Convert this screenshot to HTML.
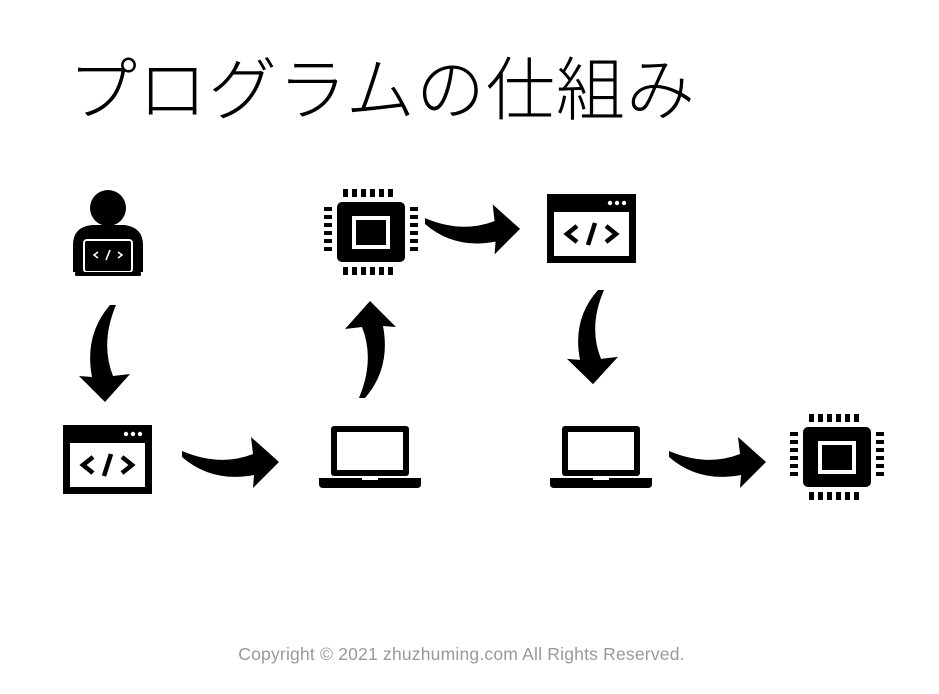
<!DOCTYPE html>
<html><head><meta charset="utf-8"><style>
html,body{margin:0;padding:0;background:#fff;width:939px;height:694px;overflow:hidden;position:relative}
.t{position:absolute;left:68px;top:34px;font-family:"Liberation Sans","Noto Sans CJK JP",sans-serif;font-weight:300;font-size:69px;color:#000;white-space:nowrap;letter-spacing:1px}
.c{position:absolute;left:0;width:923px;text-align:center;top:644px;font-family:"Liberation Sans",sans-serif;font-size:17.5px;letter-spacing:0.2px;color:#999}
svg{position:absolute;left:0;top:0}
</style></head><body>
<div class="t">プログラムの仕組み</div>
<div class="c">Copyright © 2021 zhuzhuming.com All Rights Reserved.</div>
<svg width="939" height="694" viewBox="0 0 939 694">
<defs>
<path id="ar" d="M0,-4 Q38,12 71,-1 L69,-18 L97,7 L71,33 L72,20 Q30,28 0,2 Z" fill="#000"/>
<g id="win">
<rect x="0" y="0" width="89" height="69" fill="#000"/>
<rect x="7" y="18" width="75" height="44" fill="#fff"/>
<circle cx="63" cy="9" r="2.2" fill="#fff"/><circle cx="70" cy="9" r="2.2" fill="#fff"/><circle cx="77" cy="9" r="2.2" fill="#fff"/>
<path d="M30,32 L20,40 L30,48 M59,32 L69,40 L59,48 M48,29 L41,51" stroke="#000" stroke-width="4.5" fill="none"/>
</g>
<g id="lap">
<rect x="12" y="0" width="78" height="50" rx="3" fill="#000"/>
<rect x="18" y="6" width="66" height="38" fill="#fff"/>
<path d="M0,52 H102 V58 Q102,62 98,62 H4 Q0,62 0,58 Z" fill="#000"/>
<rect x="43" y="52" width="16" height="2" fill="#fff"/>
</g>
<g id="chip">
<rect x="13" y="13" width="68" height="60" rx="5" fill="#000"/>
<rect x="28" y="27" width="38" height="33" fill="#fff"/>
<rect x="32" y="31" width="30" height="25" fill="#000"/>
<g fill="#000">
<rect x="19" y="0" width="5" height="8"/><rect x="28" y="0" width="5" height="8"/><rect x="37" y="0" width="5" height="8"/><rect x="46" y="0" width="5" height="8"/><rect x="55" y="0" width="5" height="8"/><rect x="64" y="0" width="5" height="8"/>
<rect x="19" y="78" width="5" height="8"/><rect x="28" y="78" width="5" height="8"/><rect x="37" y="78" width="5" height="8"/><rect x="46" y="78" width="5" height="8"/><rect x="55" y="78" width="5" height="8"/><rect x="64" y="78" width="5" height="8"/>
<rect x="0" y="18" width="8" height="4"/><rect x="0" y="26" width="8" height="4"/><rect x="0" y="34" width="8" height="4"/><rect x="0" y="42" width="8" height="4"/><rect x="0" y="50" width="8" height="4"/><rect x="0" y="58" width="8" height="4"/>
<rect x="86" y="18" width="8" height="4"/><rect x="86" y="26" width="8" height="4"/><rect x="86" y="34" width="8" height="4"/><rect x="86" y="42" width="8" height="4"/><rect x="86" y="50" width="8" height="4"/><rect x="86" y="58" width="8" height="4"/>
</g>
</g>
</defs>
<!-- person -->
<circle cx="108" cy="208" r="18" fill="#000"/>
<path d="M73,272 L73,245 Q73,227 92,225 L124,225 Q143,227 143,245 L143,272 Z" fill="#000"/>
<rect x="84" y="240" width="48" height="32" rx="3" fill="none" stroke="#fff" stroke-width="2"/>
<rect x="75" y="272" width="66" height="4" rx="1" fill="#000"/>
<path d="M98,252 L94,255 L98,258 M118,252 L122,255 L118,258 M110,250 L106,260" stroke="#fff" stroke-width="1.6" fill="none"/>
<!-- nodes -->
<use href="#win" x="63" y="425"/>
<use href="#win" x="547" y="194"/>
<use href="#lap" x="319" y="426"/>
<use href="#lap" x="550" y="426"/>
<use href="#chip" x="324" y="189"/>
<use href="#chip" x="790" y="414"/>
<!-- arrows -->
<use href="#ar" transform="translate(112,305) rotate(90)"/>
<use href="#ar" transform="translate(182,455)"/>
<use href="#ar" transform="translate(363,398) rotate(-90)"/>
<use href="#ar" transform="translate(425,222) scale(0.98)"/>
<use href="#ar" transform="translate(600,290) rotate(90) scale(0.97,1)"/>
<use href="#ar" transform="translate(669,455)"/>
</svg>
</body></html>
